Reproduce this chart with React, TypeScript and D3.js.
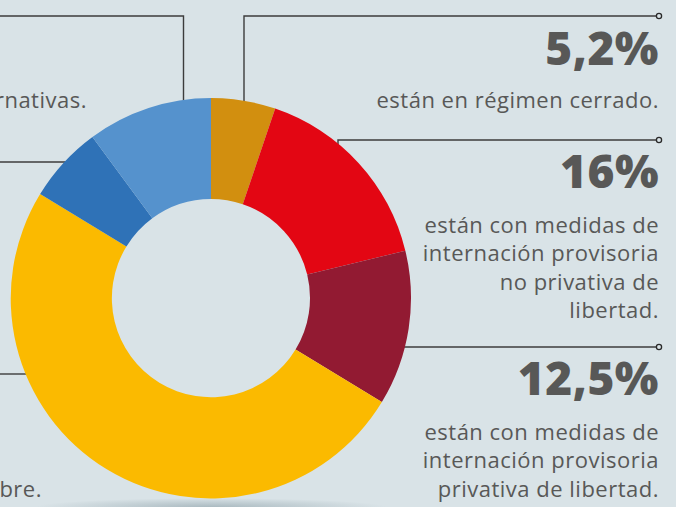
import React from "react";
import * as d3 from "d3";

const categories = [
  "régimen cerrado",
  "internación provisoria no privativa",
  "internación provisoria privativa",
  "libertad (…bre.)",
  "otra (azul oscuro)",
  "medidas alternativas",
];
const values = [5.2, 16, 12.5, 50.0, 6.2, 10.1];
const colors = ["#d28f0f", "#e30613", "#921a32", "#fbba00", "#2f72b7", "#5592cd"];

const rightLabels = [
  { idx: 0, lines: ["están en régimen cerrado."] },
  { idx: 1, lines: ["están con medidas de", "internación provisoria", "no privativa de", "libertad."] },
  { idx: 2, lines: ["están con medidas de", "internación provisoria", "privativa de libertad."] },
];

const W = 676;
const H = 507;
const BG = "#d9e3e7";
const TEXT = "#585857";

export default function App() {
  const cx = 211;
  const cy = 298;
  const rOuter = 200;
  const rInner = 99;
  const pie = d3.pie<number>().sort(null).value((d) => d).startAngle(0).endAngle(2 * Math.PI);
  const arcs = pie(values);
  const arc = d3.arc<d3.PieArcDatum<number>>().innerRadius(rInner).outerRadius(rOuter);
  const fmt = (v: number) => String(v).replace(".", ",") + "%";

  const rightX = 659;
  const lineYs = [16, 140, 347];
  const bigBaselines = [65, 188, 395];
  const bodyStarts = [108, 233, 440];
  const lineH = 28.4;

  const edgeX = (y: number, side: number) => cx + side * Math.sqrt(rOuter * rOuter - (y - cy) * (y - cy));

  const bodyFont = {
    fontFamily: "'Open Sans', sans-serif",
    fontSize: 22,
    fontWeight: 500,
    letterSpacing: 0.5,
  } as const;

  return (
    <div style={{ position: "fixed", left: 0, top: 0, width: W, height: H }}>
      <svg width={W} height={H} style={{ display: "block" }}>
        <defs>
          <radialGradient id="shadow" cx="50%" cy="50%" r="50%">
            <stop offset="0%" stopColor="#9fb0b7" stopOpacity={0.8} />
            <stop offset="100%" stopColor="#9fb0b7" stopOpacity={0} />
          </radialGradient>
        </defs>
        <rect width={W} height={H} fill={BG} />
        <ellipse cx={cx} cy={507} rx={175} ry={9} fill="url(#shadow)" />

        <g fill="none" stroke="#3c3c3c" strokeWidth={1.4}>
          <polyline points={`0,16 183.5,16 183.5,110`} />
          <line x1={0} y1={162} x2={edgeX(162, -1) + 4} y2={162} />
          <line x1={0} y1={374} x2={edgeX(374, -1) + 4} y2={374} />
          <polyline points={`${rightX},16 244,16 244,110`} />
          <polyline points={`${rightX},140 338,140 338,150`} />
          <line x1={rightX} y1={347} x2={edgeX(347, 1) - 4} y2={347} />
        </g>
        {lineYs.map((y, i) => (
          <circle key={i} cx={rightX} cy={y} r={2.6} fill={BG} stroke="#2a2a2a" strokeWidth={1.3} />
        ))}

        <g transform={`translate(${cx},${cy})`}>
          {arcs.map((a, i) => (
            <path key={categories[i]} d={arc(a) || ""} fill={colors[i]} />
          ))}
        </g>

        {rightLabels.map((lab, k) => (
          <g key={k} fill={TEXT} textAnchor="end">
            <text
              x={rightX}
              y={bigBaselines[k]}
              fontFamily="'Open Sans', sans-serif"
              fontWeight={800}
              fontSize={46}
              letterSpacing={0.5}
            >
              {fmt(values[lab.idx])}
            </text>
            {lab.lines.map((ln, j) => (
              <text key={j} x={rightX} y={bodyStarts[k] + j * lineH} {...bodyFont}>
                {ln}
              </text>
            ))}
          </g>
        ))}

        <text x={87} y={108} textAnchor="end" fill={TEXT} {...bodyFont}>
          rnativas.
        </text>
        <text x={42} y={497} textAnchor="end" fill={TEXT} {...bodyFont}>
          bre.
        </text>
      </svg>
    </div>
  );
}
